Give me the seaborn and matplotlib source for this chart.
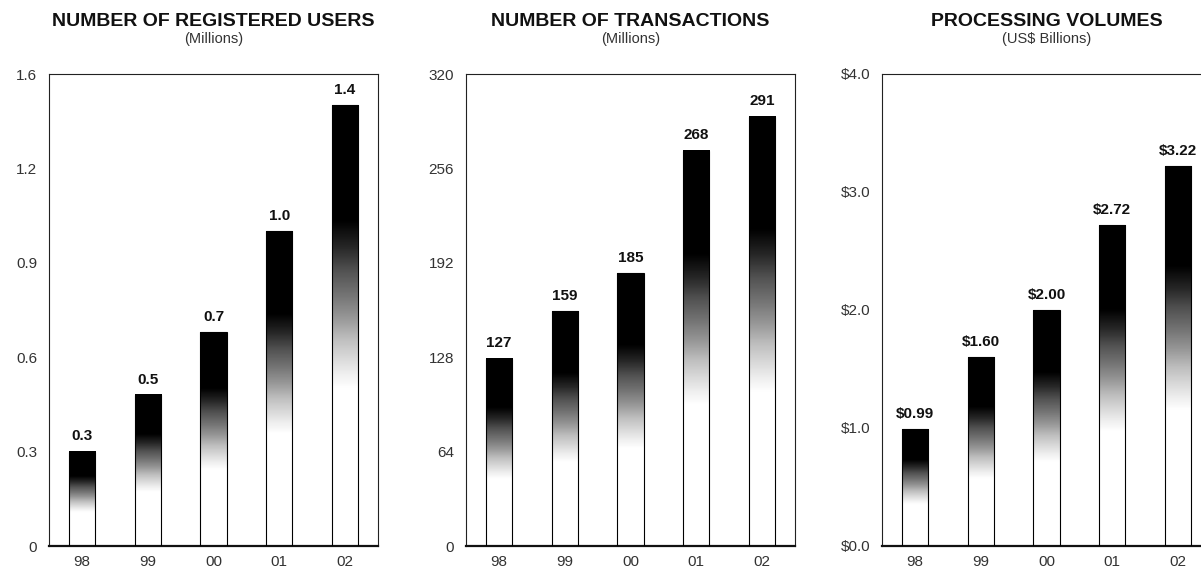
import numpy as np
import pandas as pd
import matplotlib
matplotlib.use("Agg")
import matplotlib.pyplot as plt
import seaborn as sns

# ---- data -------------------------------------------------------------
years = ["98", "99", "00", "01", "02"]
users = [0.3, 0.48, 0.68, 1.0, 1.4]           # millions
transactions = [127, 159, 185, 268, 291]      # millions
volumes = [0.99, 1.60, 2.00, 2.72, 3.22]      # US$ billions

users_ticks = [0, 0.3, 0.6, 0.9, 1.2, 1.5]
users_ticklabels = ["0", "0.3", "0.6", "0.9", "1.2", "1.6"]
trans_ticks = [0, 64, 128, 192, 256, 320]
trans_ticklabels = ["0", "64", "128", "192", "256", "320"]
vol_ticks = [0, 1, 2, 3, 4]
vol_ticklabels = ["$0.0", "$1.0", "$2.0", "$3.0", "$4.0"]

titles = ["NUMBER OF REGISTERED USERS", "NUMBER OF TRANSACTIONS", "PROCESSING VOLUMES"]
subtitles = ["(Millions)", "(Millions)", "(US$ Billions)"]

# ---- style ------------------------------------------------------------
sns.set_theme(style="white")
plt.rcParams["font.family"] = ["Liberation Sans", "DejaVu Sans"]
TEXT = "#111111"

W, H = 1201, 570
fig = plt.figure(figsize=(W / 100, H / 100), dpi=100)

panels = [
    (users, users_ticks, users_ticklabels, lambda v: f"{v:.1f}", 49),
    (transactions, trans_ticks, trans_ticklabels, lambda v: f"{v:d}", 466),
    (volumes, vol_ticks, vol_ticklabels, lambda v: f"${v:.2f}", 882),
]

ax_w, ax_h, ax_bottom = 329, 472, 24

# vertical shading: white at the base, darkening to black at the top
grad = np.linspace(0, 1, 256)
shade = np.clip((grad - 0.36) / 0.38, 0, 1) ** 0.8
shade = shade[:, None]

for (vals, ticks, ticklabels, fmt, left), title, sub in zip(panels, titles, subtitles):
    ax = fig.add_axes([left / W, ax_bottom / H, ax_w / W, ax_h / H])
    df = pd.DataFrame({"year": years, "value": vals})
    sns.barplot(data=df, x="year", y="value", color="white", width=0.4,
                edgecolor="black", linewidth=0.8, ax=ax, zorder=3)

    for p in ax.patches:
        p.set_facecolor("none")
        x0, w, h = p.get_x(), p.get_width(), p.get_height()
        ax.imshow(shade, cmap="Greys", vmin=0, vmax=1, origin="lower",
                  extent=[x0, x0 + w, 0, h], aspect="auto", zorder=2,
                  interpolation="bilinear")

    ax.set_xlim(-0.5, 4.5)
    ax.set_ylim(ticks[0], ticks[-1])
    ax.set_yticks(ticks)
    ax.set_yticklabels(ticklabels)
    ax.set_xlabel("")
    ax.set_ylabel("")
    ax.tick_params(axis="y", length=0, pad=8.5, labelsize=11, labelcolor="#333333")
    ax.tick_params(axis="x", length=0, pad=6.5, labelsize=11, labelcolor="#333333")

    for side in ["top", "right", "left"]:
        ax.spines[side].set_color("#222222")
        ax.spines[side].set_linewidth(0.8)
    ax.spines["bottom"].set_color("#111111")
    ax.spines["bottom"].set_linewidth(1.6)

    for p, v in zip(ax.patches, vals):
        ax.annotate(fmt(v), (p.get_x() + p.get_width() / 2, p.get_height()),
                    xytext=(0, 6), textcoords="offset points",
                    ha="center", va="bottom", fontsize=11,
                    fontweight="bold", color=TEXT)

    cx = (left + ax_w / 2) / W
    fig.text(cx, 1 - 26 / H, title, ha="center", va="baseline",
             fontsize=14, fontweight="bold", color=TEXT)
    fig.text(cx, 1 - 43 / H, sub, ha="center", va="baseline",
             fontsize=10.5, color="#333333")

fig.savefig("out.png", dpi=100, facecolor="white")
